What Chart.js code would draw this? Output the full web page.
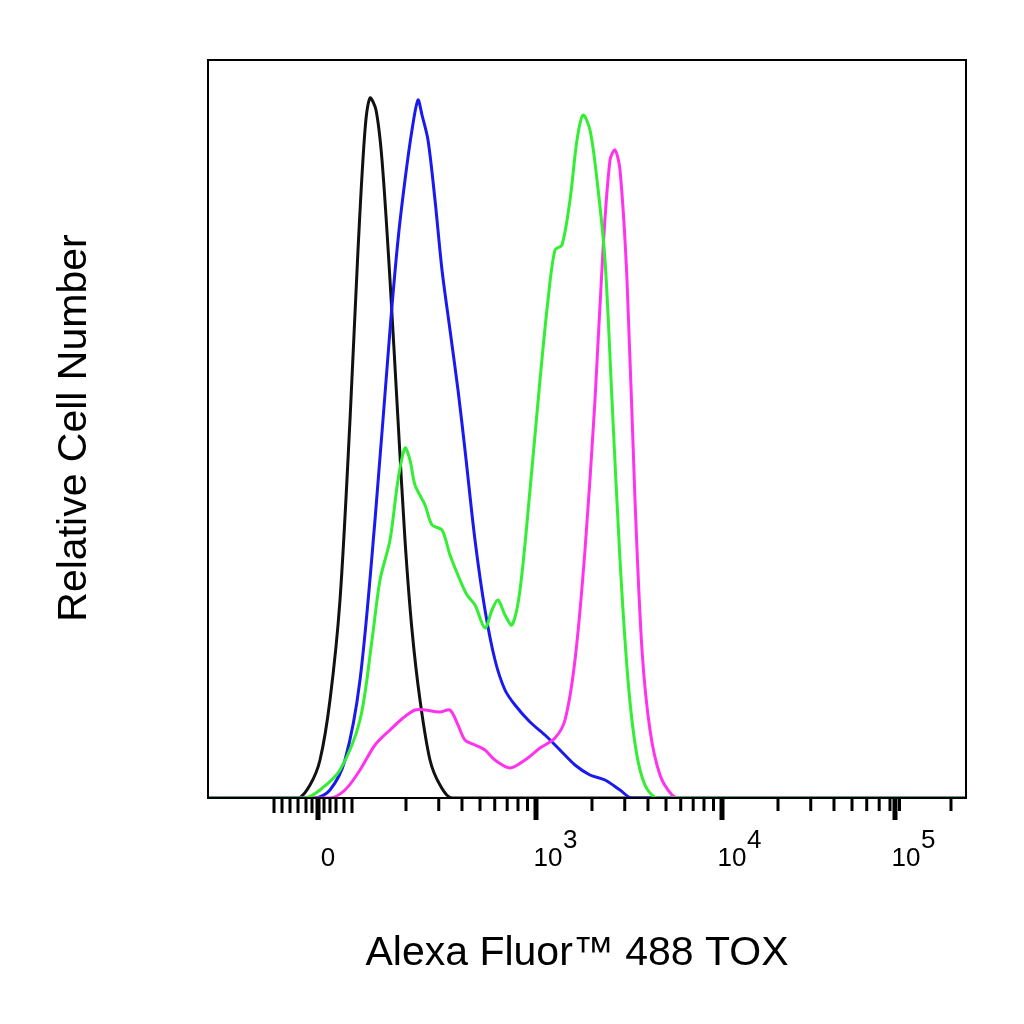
<!DOCTYPE html>
<html>
<head>
<meta charset="utf-8" />
<script src="https://cdn.jsdelivr.net/npm/chart.js@4"></script>
<style>
  body { margin: 0; background: #fff; }
  #wrap { width: 1024px; height: 1024px; }
</style>
</head>
<body>
<div id="wrap"><canvas id="myChart" width="1024" height="1024"></canvas></div>
<script>
// x in display channel units, y = relative count
var blackX = [208, 298, 310, 320, 330, 340, 350, 358, 365, 370, 376, 382, 390, 398, 405, 412, 420, 430, 440, 452, 966];
var blackY = [0, 0, 13, 38, 98, 198, 378, 548, 668, 700, 688, 638, 518, 378, 258, 168, 98, 38, 13, 0, 0];

var blueX = [208, 315, 330, 345, 360, 375, 390, 398, 405, 412, 418, 422, 428, 435, 442, 450, 458, 465, 475, 485, 495, 505, 515, 530, 545, 560, 575, 590, 605, 620, 632, 966];
var blueY = [0, 0, 8, 38, 118, 278, 468, 558, 618, 668, 698, 683, 658, 598, 528, 468, 408, 348, 258, 188, 138, 108, 93, 76, 63, 48, 33, 23, 18, 8, 0, 0];

var greenX = [208, 305, 320, 340, 360, 372, 380, 390, 398, 405, 410, 415, 425, 432, 442, 450, 460, 467, 475, 485, 492, 498, 505, 512, 520, 530, 540, 548, 555, 562, 570, 577, 583, 590, 597, 605, 612, 620, 628, 636, 645, 658, 966];
var greenY = [0, 0, 8, 28, 78, 158, 218, 258, 318, 350, 338, 313, 293, 273, 268, 243, 218, 203, 193, 170, 188, 198, 183, 173, 208, 308, 418, 498, 548, 553, 598, 658, 683, 668, 618, 538, 398, 238, 118, 48, 13, 0, 0];

var magentaX = [208, 330, 345, 360, 375, 390, 403, 415, 425, 440, 450, 458, 465, 475, 485, 495, 510, 525, 540, 555, 565, 575, 585, 595, 603, 610, 615, 620, 627, 635, 642, 650, 660, 672, 680, 966];
var magentaY = [0, 0, 8, 28, 53, 68, 80, 88, 88, 86, 88, 73, 58, 53, 48, 38, 30, 38, 50, 60, 78, 138, 248, 398, 548, 638, 648, 628, 518, 298, 148, 68, 23, 3, 0, 0];

var majorTicks = [318, 536, 722, 895];
var majorLabels = ["0", "10|3", "10|4", "10|5"];
var labelX = [328, 556, 740, 914];

function pts(xs, ys) {
  return xs.map(function (x, i) { return { x: x, y: ys[i] }; });
}

function ds(label, xs, ys, color) {
  return {
    label: label,
    data: pts(xs, ys),
    borderColor: color,
    borderWidth: 3,
    pointRadius: 0,
    tension: 0.3,
    fill: false,
  };
}

const axisDraw = {
  id: "axisDraw",
  afterDraw(chart) {
    const { ctx, chartArea: { left, right, top, bottom }, scales: { x } } = chart;
    ctx.save();
    ctx.strokeStyle = "#000";
    ctx.lineWidth = 2;
    ctx.strokeRect(left, top, right - left, bottom - top);
    // major ticks
    ctx.lineWidth = 5;
    majorTicks.forEach(function (v) {
      var px = x.getPixelForValue(v);
      ctx.beginPath(); ctx.moveTo(px, bottom); ctx.lineTo(px, bottom + 22); ctx.stroke();
    });
    // minor ticks (log decades)
    ctx.lineWidth = 3;
    var dec = 186;
    var starts = [536 - dec, 536, 722, 895];
    starts.forEach(function (s) {
      for (var k = 2; k <= 9; k++) {
        var v = s + dec * Math.log10(k);
        if (v > 966) continue;
        var px = x.getPixelForValue(v);
        ctx.beginPath(); ctx.moveTo(px, bottom); ctx.lineTo(px, bottom + 13); ctx.stroke();
      }
    });
    // linear region near 0
    [274, 282, 290, 298, 306, 312, 324, 330, 336, 344, 352].forEach(function (v) {
      var px = x.getPixelForValue(v);
      ctx.beginPath(); ctx.moveTo(px, bottom); ctx.lineTo(px, bottom + 15); ctx.stroke();
    });
    // labels
    ctx.fillStyle = "#000";
    ctx.textBaseline = "alphabetic";
    majorLabels.forEach(function (lab, i) {
      var parts = lab.split("|");
      ctx.font = "26px 'Liberation Sans', Arial, sans-serif";
      ctx.textAlign = "center";
      if (parts.length === 1) {
        ctx.fillText(parts[0], labelX[i], 866);
      } else {
        ctx.fillText(parts[0], labelX[i] - 8, 866);
        ctx.textAlign = "left";
        ctx.fillText(parts[1], labelX[i] + 7, 848);
      }
    });
    ctx.font = "41px 'Liberation Sans', Arial, sans-serif";
    ctx.textAlign = "center";
    ctx.fillText("Alexa Fluor\u2122 488 TOX", 577, 965);
    ctx.translate(86, 428);
    ctx.rotate(-Math.PI / 2);
    ctx.fillText("Relative Cell Number", 0, 0);
    ctx.restore();
  },
};

new Chart(document.getElementById("myChart"), {
  type: "line",
  data: {
    datasets: [
      ds("green", greenX, greenY, "#33ee33"),
      ds("magenta", magentaX, magentaY, "#ff33ee"),
      ds("blue", blueX, blueY, "#1a1aee"),
      ds("black", blackX, blackY, "#111111"),
    ],
  },
  options: {
    responsive: false,
    animation: false,
    layout: { padding: { left: 208, top: 60, right: 58, bottom: 226 } },
    plugins: { legend: { display: false }, tooltip: { enabled: false } },
    scales: {
      x: { type: "linear", min: 208, max: 966, display: false },
      y: { min: 0, max: 738, display: false },
    },
  },
  plugins: [axisDraw],
});
</script>
</body>
</html>
